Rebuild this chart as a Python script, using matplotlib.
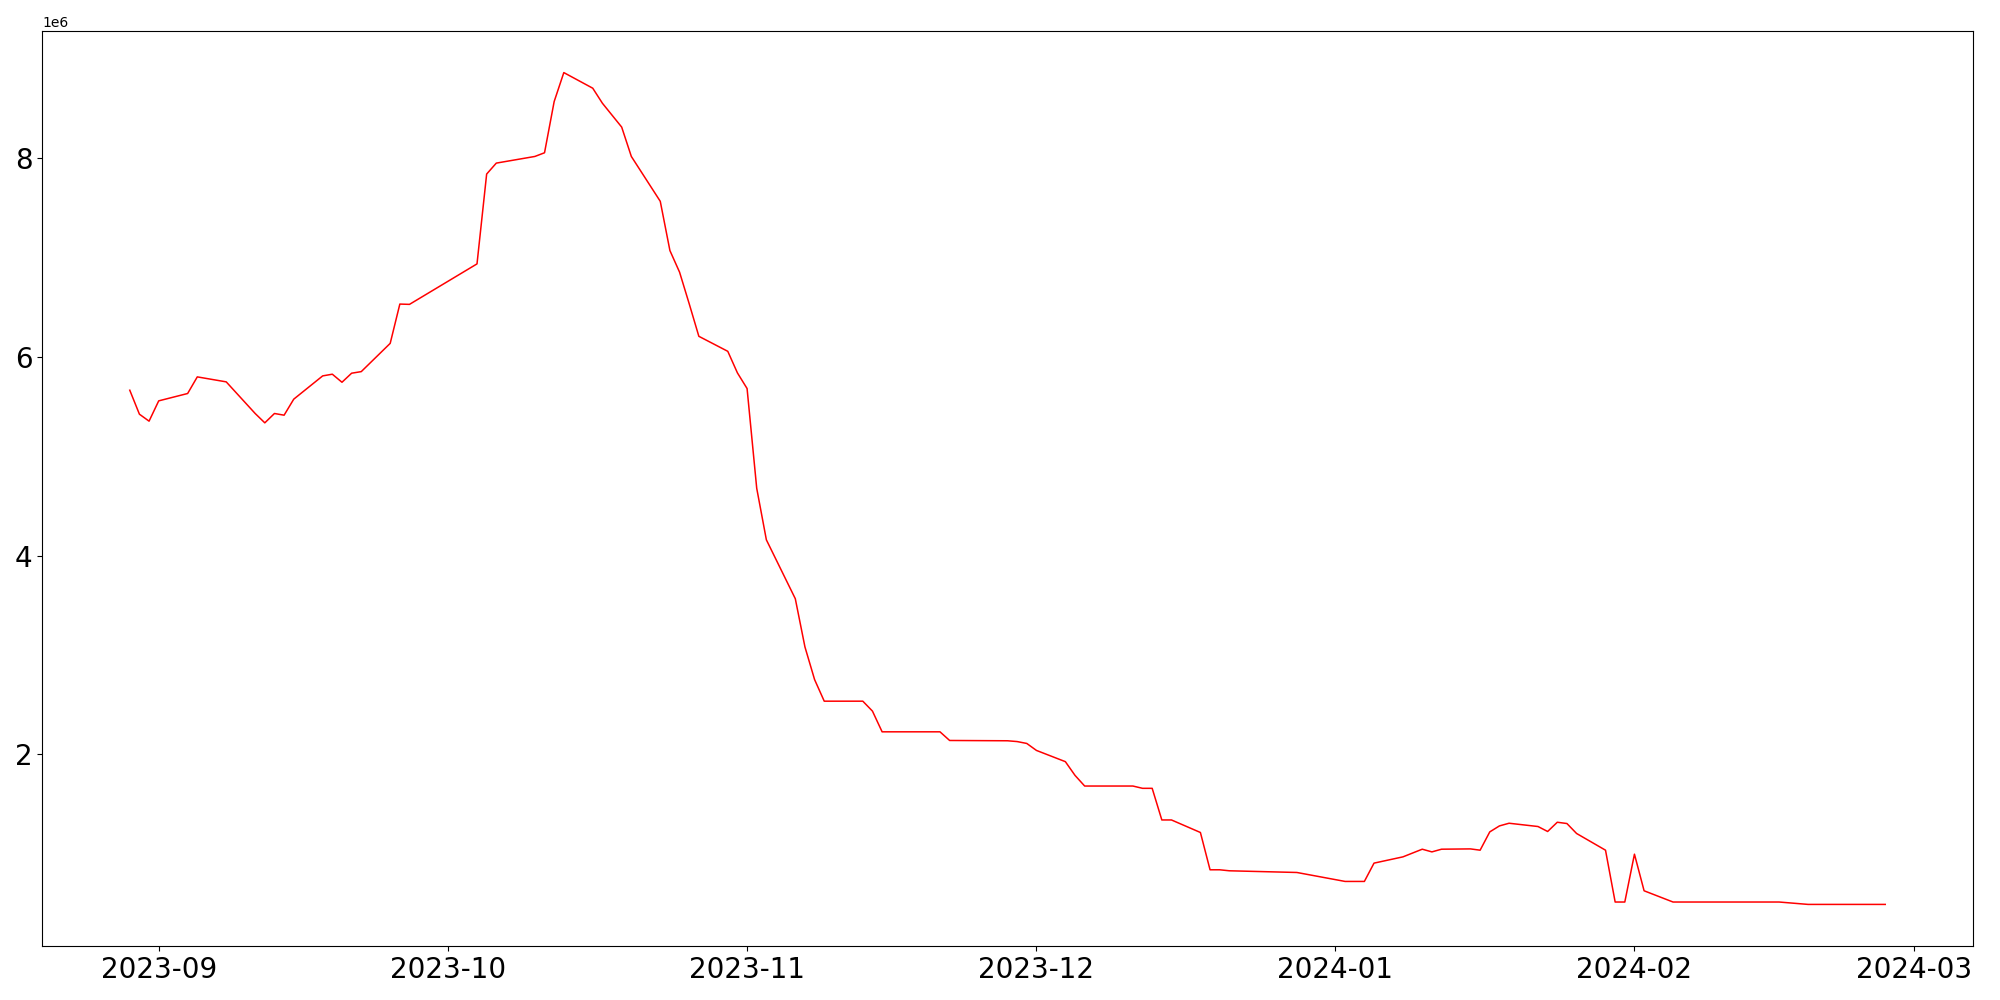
import matplotlib
matplotlib.use("Agg")
import matplotlib.pyplot as plt
import pandas as pd

# daily values (business days, some gaps)
dates = [
    "2023-08-29", "2023-08-30", "2023-08-31", "2023-09-01", "2023-09-04",
    "2023-09-05", "2023-09-08", "2023-09-11", "2023-09-12", "2023-09-13",
    "2023-09-14", "2023-09-15", "2023-09-18", "2023-09-19", "2023-09-20",
    "2023-09-21", "2023-09-22", "2023-09-25", "2023-09-26", "2023-09-27",
    "2023-10-04", "2023-10-05", "2023-10-06", "2023-10-10", "2023-10-11",
    "2023-10-12", "2023-10-13", "2023-10-16", "2023-10-17", "2023-10-19",
    "2023-10-20", "2023-10-23", "2023-10-24", "2023-10-25", "2023-10-26",
    "2023-10-27", "2023-10-30", "2023-10-31", "2023-11-01", "2023-11-02",
    "2023-11-03", "2023-11-06", "2023-11-07", "2023-11-08", "2023-11-09",
    "2023-11-13", "2023-11-14", "2023-11-15", "2023-11-21", "2023-11-22",
    "2023-11-28", "2023-11-29", "2023-11-30", "2023-12-01", "2023-12-04",
    "2023-12-05", "2023-12-06", "2023-12-11", "2023-12-12", "2023-12-13",
    "2023-12-14", "2023-12-15", "2023-12-18", "2023-12-19", "2023-12-20",
    "2023-12-21", "2023-12-28", "2024-01-02", "2024-01-04", "2024-01-05",
    "2024-01-08", "2024-01-10", "2024-01-11", "2024-01-12", "2024-01-15",
    "2024-01-16", "2024-01-17", "2024-01-18", "2024-01-19", "2024-01-22",
    "2024-01-23", "2024-01-24", "2024-01-25", "2024-01-26", "2024-01-29",
    "2024-01-30", "2024-01-31", "2024-02-01", "2024-02-02", "2024-02-05",
    "2024-02-16", "2024-02-19", "2024-02-27",
]

values = [
    5.662, 5.421, 5.351, 5.555, 5.629,
    5.796, 5.746, 5.428, 5.334, 5.428,
    5.411, 5.572, 5.806, 5.823, 5.742,
    5.833, 5.849, 6.133, 6.528, 6.525,
    6.932, 7.835, 7.945, 8.012, 8.049,
    8.564, 8.855, 8.698, 8.547, 8.307,
    8.012, 7.561, 7.066, 6.849, 6.531,
    6.204, 6.053, 5.836, 5.679, 4.676,
    4.158, 3.566, 3.081, 2.753, 2.536,
    2.536, 2.436, 2.228, 2.228, 2.141,
    2.138, 2.130, 2.111, 2.041, 1.928,
    1.790, 1.683, 1.683, 1.660, 1.660,
    1.342, 1.342, 1.216, 0.841, 0.841,
    0.831, 0.814, 0.724, 0.724, 0.908,
    0.971, 1.048, 1.021, 1.048, 1.051,
    1.038, 1.222, 1.282, 1.309, 1.276,
    1.226, 1.319, 1.306, 1.206, 1.038,
    0.517, 0.517, 0.998, 0.630, 0.517,
    0.517, 0.493, 0.493,
]

x = pd.to_datetime(dates)
y = [v * 1e6 for v in values]

fig, ax = plt.subplots(figsize=(20, 10), dpi=100)
ax.plot(x, y, color="red", linewidth=1.1)

plt.xticks(fontsize=20)
plt.yticks(fontsize=20)

fig.subplots_adjust(left=0.021, right=0.9865, top=0.969, bottom=0.054)
fig.savefig("out.png")
